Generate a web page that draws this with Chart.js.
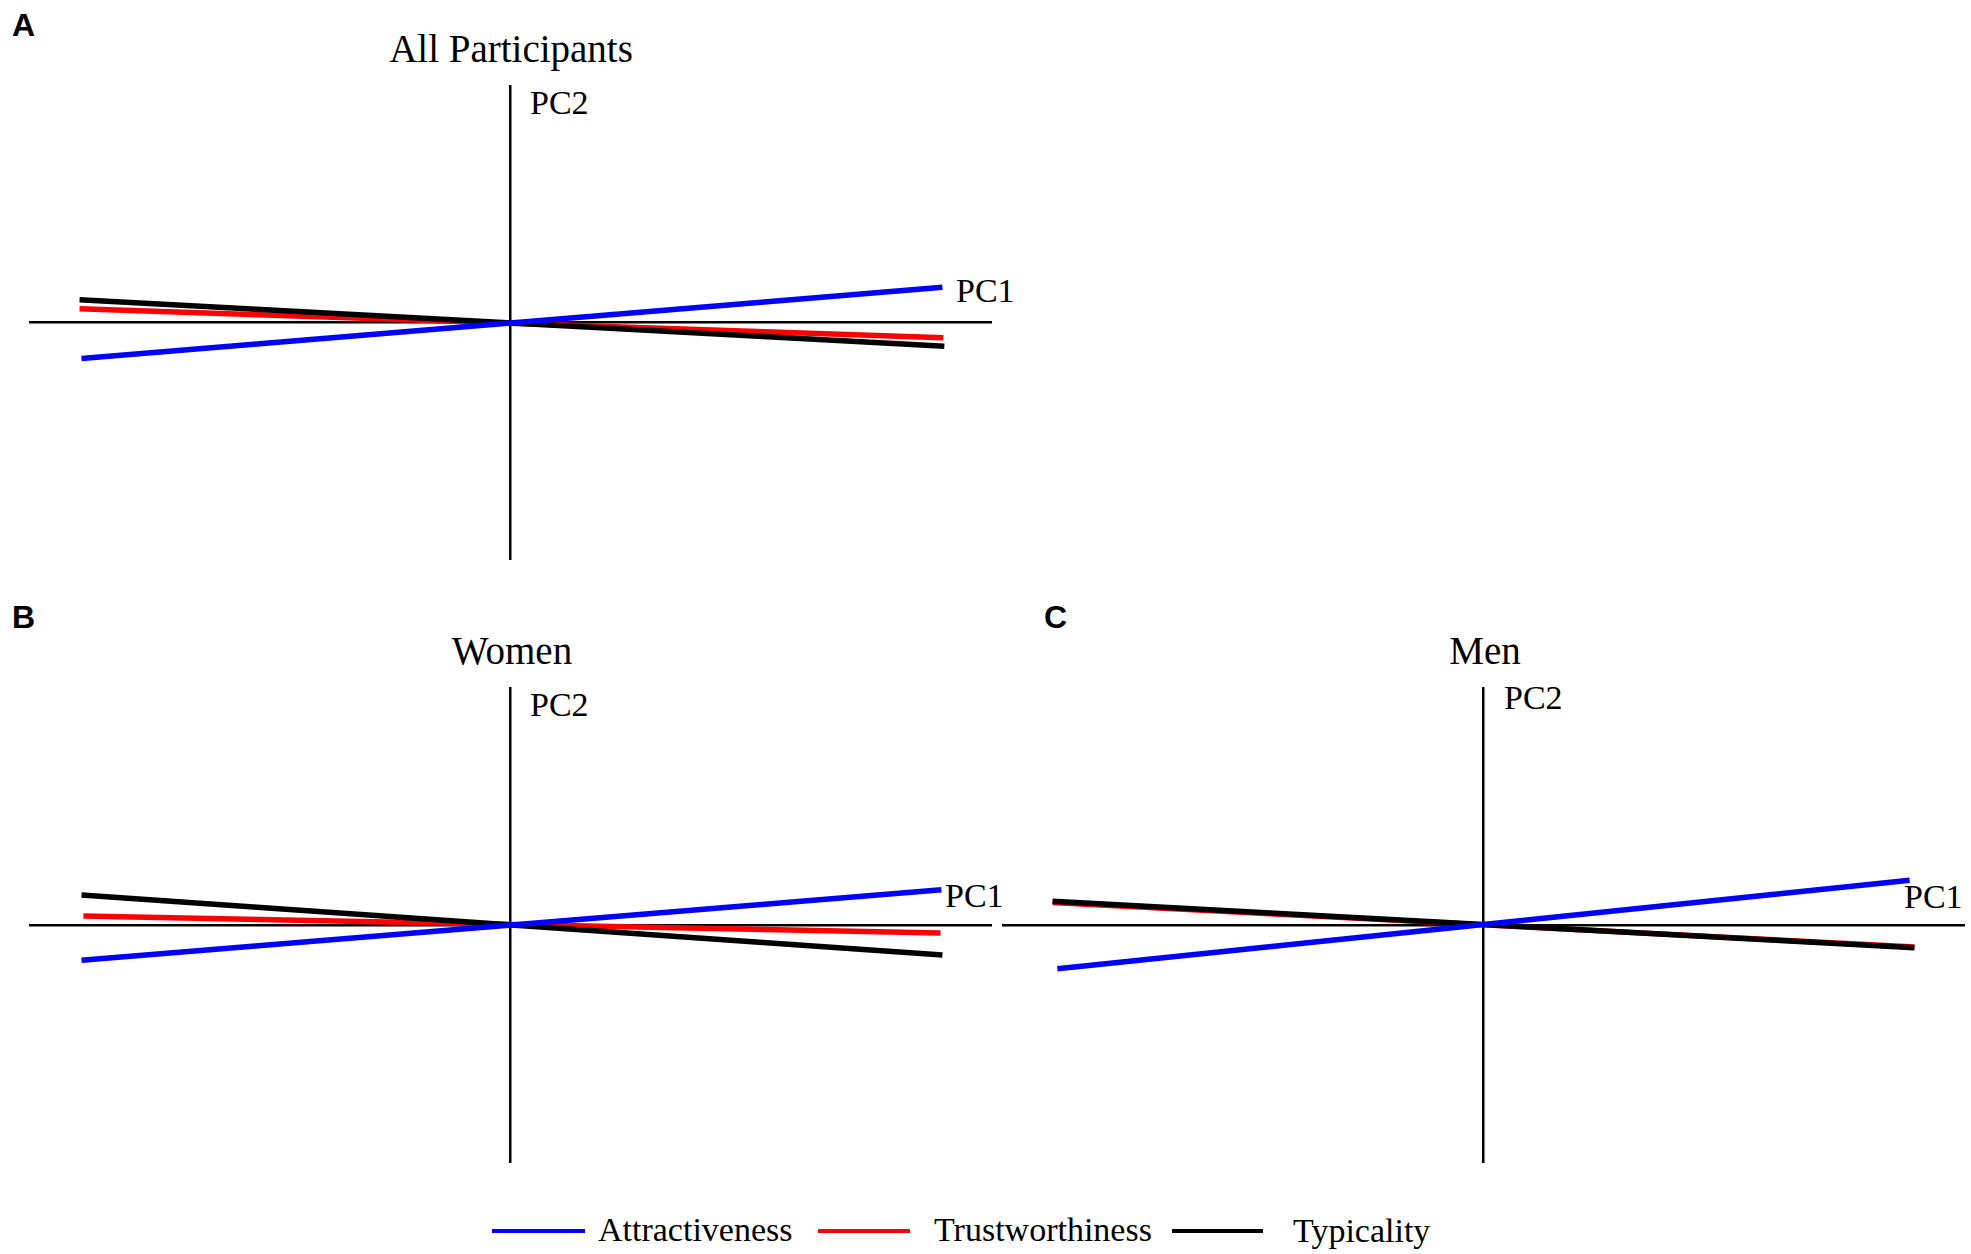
<!DOCTYPE html>
<html>
<head>
<meta charset="utf-8">
<script src="https://cdn.jsdelivr.net/npm/chart.js@4"></script>
<style>
  html, body { margin: 0; padding: 0; background: #fff; }
  body { width: 1971px; height: 1254px; position: relative; overflow: hidden; }
  .wrap { position: absolute; }
  .t { position: absolute; font-family: "Liberation Serif", "Times New Roman", serif; color: #000; line-height: 1; white-space: nowrap; }
  .letter { position: absolute; font-family: "Liberation Sans", Arial, sans-serif; font-weight: bold; font-size: 32px; line-height: 1; color: #000; }
  .leg { position: absolute; height: 4px; }
</style>
</head>
<body>
<div class="letter" style="left:12px; top:9px;">A</div>
<div class="letter" style="left:12px; top:601px;">B</div>
<div class="letter" style="left:1044px; top:601px;">C</div>

<div class="t" id="titleA" style="left:511px; top:29px; font-size:39px; transform:translateX(-50%);"></div>
<div class="t" id="titleB" style="left:512px; top:631px; font-size:39px; transform:translateX(-50%);"></div>
<div class="t" id="titleC" style="left:1485px; top:631px; font-size:39px; transform:translateX(-50%);"></div>

<div class="t" style="left:530px; top:86px; font-size:34px;">PC2</div>
<div class="t" style="left:530px; top:688px; font-size:34px;">PC2</div>
<div class="t" style="left:1504px; top:681px; font-size:34px;">PC2</div>
<div class="t" style="left:956px; top:274px; font-size:34px;">PC1</div>
<div class="t" style="left:945px; top:879px; font-size:34px;">PC1</div>
<div class="t" style="left:1904px; top:880px; font-size:34px;">PC1</div>

<div class="wrap" style="left:29px; top:85px; width:963px; height:475px;"><canvas id="cA"></canvas></div>
<div class="wrap" style="left:29px; top:687px; width:963px; height:476px;"><canvas id="cB"></canvas></div>
<div class="wrap" style="left:1002px; top:687px; width:963px; height:476px;"><canvas id="cC"></canvas></div>

<div class="leg" style="left:492px; top:1229px; width:93px; background:#0000ff;"></div>
<div class="t" id="leg0" style="left:598px; top:1213px; font-size:34px;"></div>
<div class="leg" style="left:818px; top:1229px; width:92px; background:#ff0000;"></div>
<div class="t" id="leg1" style="left:934px; top:1213px; font-size:34px;"></div>
<div class="leg" style="left:1172px; top:1229px; width:91px; background:#000000;"></div>
<div class="t" id="leg2" style="left:1293px; top:1214px; font-size:34px;"></div>

<script>
// ---- data ----
const panelTitles = ['All Participants', 'Women', 'Men'];
const seriesNames = ['Attractiveness', 'Trustworthiness', 'Typicality'];
const axisTicksX = [-1, 0, 1];
const axisTicksY = [-0.5, 0, 0.5];

// All participants (PC1, PC2 end points)
const allAttractiveness   = [{x: -0.891, y: -0.076}, {x: 0.897, y: 0.074}];
const allTrustworthiness  = [{x: -0.895, y: 0.029},  {x: 0.899, y: -0.032}];
const allTypicality       = [{x: -0.895, y: 0.048},  {x: 0.901, y: -0.050}];

// Women
const womenAttractiveness  = [{x: -0.891, y: -0.074}, {x: 0.895, y: 0.074}];
const womenTrustworthiness = [{x: -0.887, y: 0.019},  {x: 0.893, y: -0.017}];
const womenTypicality      = [{x: -0.891, y: 0.063},  {x: 0.897, y: -0.063}];

// Men
const menAttractiveness  = [{x: -0.885, y: -0.092}, {x: 0.885, y: 0.094}];
const menTrustworthiness = [{x: -0.895, y: 0.047},  {x: 0.895, y: -0.046}];
const menTypicality      = [{x: -0.895, y: 0.050},  {x: 0.895, y: -0.048}];

// ---- styles ----
const seriesColors = ['#0000ff', '#ff0000', '#000000'];
const drawOrder = [0, 2, 1]; // lower = on top

document.getElementById('titleA').textContent = panelTitles[0];
document.getElementById('titleB').textContent = panelTitles[1];
document.getElementById('titleC').textContent = panelTitles[2];
seriesNames.forEach((n, i) => { document.getElementById('leg' + i).textContent = n; });

function makePanel(id, seriesData) {
  const datasets = seriesData.map((d, i) => ({
    label: seriesNames[i],
    data: d,
    showLine: true,
    borderColor: seriesColors[i],
    backgroundColor: seriesColors[i],
    borderWidth: 5.5,
    borderCapStyle: 'butt',
    pointRadius: 0,
    pointHoverRadius: 0,
    fill: false,
    tension: 0,
    order: drawOrder[i]
  }));
  const zeroGrid = (c) => (c.tick && c.tick.value === 0) ? '#000000' : 'rgba(0,0,0,0)';
  new Chart(document.getElementById(id), {
    type: 'scatter',
    data: { datasets },
    options: {
      responsive: true,
      maintainAspectRatio: false,
      animation: false,
      layout: { padding: 0 },
      plugins: { legend: { display: false }, tooltip: { enabled: false }, title: { display: false } },
      scales: {
        x: {
          type: 'linear', min: axisTicksX[0], max: axisTicksX[axisTicksX.length - 1],
          afterBuildTicks: (s) => { s.ticks = axisTicksX.map(v => ({ value: v })); },
          ticks: { display: false },
          border: { display: false },
          grid: { color: zeroGrid, lineWidth: 2.5, drawTicks: false }
        },
        y: {
          type: 'linear', min: axisTicksY[0], max: axisTicksY[axisTicksY.length - 1],
          afterBuildTicks: (s) => { s.ticks = axisTicksY.map(v => ({ value: v })); },
          ticks: { display: false },
          border: { display: false },
          grid: { color: zeroGrid, lineWidth: 2.5, drawTicks: false }
        }
      }
    }
  });
}

makePanel('cA', [allAttractiveness, allTrustworthiness, allTypicality]);
makePanel('cB', [womenAttractiveness, womenTrustworthiness, womenTypicality]);
makePanel('cC', [menAttractiveness, menTrustworthiness, menTypicality]);
</script>
</body>
</html>
